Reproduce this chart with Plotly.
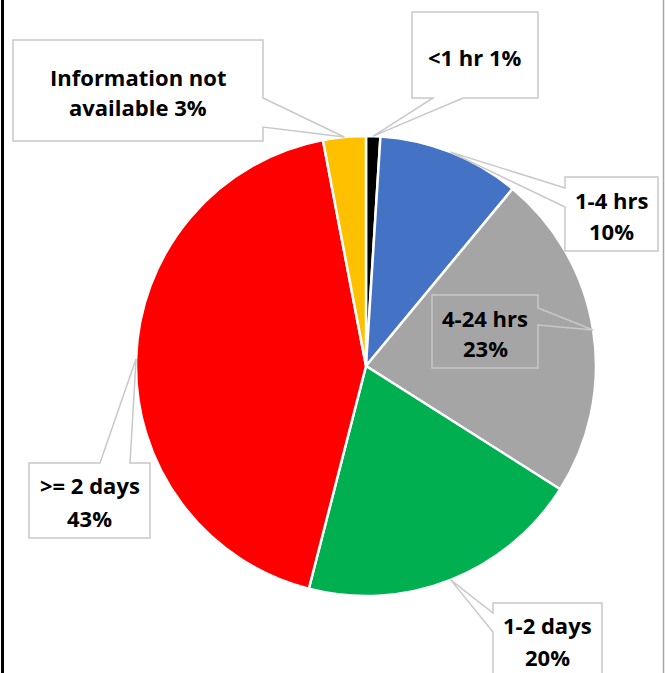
import math
import plotly.graph_objects as go

# ---- data ----
categories = ["<1 hr", "1-4 hrs", "4-24 hrs", "1-2 days", ">= 2 days", "Information not available"]
values = [1, 10, 23, 20, 43, 3]
colors = ["#000000", "#4472C4", "#A5A5A5", "#00B050", "#FF0000", "#FFC000"]
# number of words on the first line of each label (None = single line)
break_after = [None, 2, 2, 2, 3, 2]

# ---- layout (pixels) ----
W, H = 665, 673
CX, CY, R = 366, 366, 230

# box: x0, y0, x1, y1, pointer side, pointer base a, b, line centres
callouts = [
    dict(box=(412, 12, 538, 98), side="bottom", base=(433, 463), lines_y=[57]),
    dict(box=(565, 177, 658, 251), side="left", base=(188, 207), lines_y=[200, 231]),
    dict(box=(432, 295, 538, 368), side="right", base=(308, 325), lines_y=[318, 348]),
    dict(box=(493, 603, 602, 700), side="left", base=(613, 632), lines_y=[625, 657]),
    dict(box=(29, 463, 150, 538), side="top", base=(100, 130), lines_y=[485, 518]),
    dict(box=(13, 40, 263, 141), side="right", base=(98, 127), lines_y=[77, 107]),
]


def px(x, y):
    return x / W, 1 - y / H


fig = go.Figure(
    go.Pie(
        labels=categories,
        values=values,
        sort=False,
        direction="clockwise",
        rotation=0,
        marker=dict(colors=colors, line=dict(color="white", width=2.5)),
        textinfo="none",
        hoverinfo="label+percent",
        showlegend=False,
        domain=dict(x=[(CX - R) / W, (CX + R) / W], y=[1 - (CY + R) / H, 1 - (CY - R) / H]),
    )
)

total = sum(values)
cum = 0
shapes = []
annotations = []
for cat, v, brk, c in zip(categories, values, break_after, callouts):
    mid = (cum + v / 2) / total * 2 * math.pi
    cum += v
    tx, ty = CX + R * math.sin(mid), CY - R * math.cos(mid)
    x0, y0, x1, y1 = c["box"]
    a, b = c["base"]
    side = c["side"]
    if side == "bottom":
        pts = [(x0, y0), (x1, y0), (x1, y1), (b, y1), (tx, ty), (a, y1), (x0, y1)]
    elif side == "right":
        pts = [(x0, y0), (x1, y0), (x1, a), (tx, ty), (x1, b), (x1, y1), (x0, y1)]
    elif side == "left":
        pts = [(x0, y0), (x1, y0), (x1, y1), (x0, y1), (x0, b), (tx, ty), (x0, a)]
    else:  # top
        pts = [(x0, y0), (a, y0), (tx, ty), (b, y0), (x1, y0), (x1, y1), (x0, y1)]
    path = "M " + " L ".join(f"{px(x, y)[0]:.5f},{px(x, y)[1]:.5f}" for x, y in pts) + " Z"
    shapes.append(dict(type="path", xref="paper", yref="paper", path=path,
                       line=dict(color="#C8C8C8", width=1.5), fillcolor="rgba(0,0,0,0)"))
    words = f"{cat} {v}%".split(" ")
    lines = [" ".join(words)] if brk is None else [" ".join(words[:brk]), " ".join(words[brk:])]
    cxm = (x0 + x1) / 2
    for ln, ly in zip(lines, c["lines_y"]):
        ax, ay = px(cxm, ly)
        annotations.append(dict(x=ax, y=ay, xref="paper", yref="paper", text=ln, showarrow=False,
                                xanchor="center", yanchor="middle",
                                font=dict(family="Open Sans", size=22, color="#000000", weight="bold")))

# outer borders
shapes.append(dict(type="line", xref="paper", yref="paper", x0=2.5 / W, x1=2.5 / W, y0=0, y1=1,
                   line=dict(color="#000000", width=3)))
shapes.append(dict(type="line", xref="paper", yref="paper", x0=663.5 / W, x1=663.5 / W, y0=0, y1=1,
                   line=dict(color="#A6A6A6", width=1.5)))

fig.update_layout(
    width=W, height=H,
    margin=dict(l=0, r=0, t=0, b=0),
    paper_bgcolor="white", plot_bgcolor="white",
    shapes=shapes, annotations=annotations,
)
fig.write_html("out.html", config=dict(displayModeBar=False),
               post_script="document.body.style.margin='0';document.body.style.padding='0';"
                           "document.body.style.overflow='hidden';")
